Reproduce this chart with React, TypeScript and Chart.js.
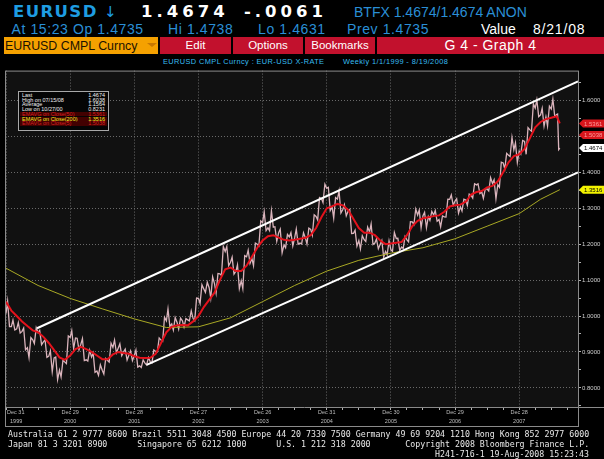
import React, { useEffect, useRef } from 'react';
import { Chart, registerables } from 'chart.js';

Chart.register(...registerables);
Chart.defaults.font.family = '"Liberation Sans", Arial, sans-serif';

// ---------------- data (monthly, Jan 2000 .. Aug 2008; x = months since Dec 31 1999) ----------------
const openingClose = 1.007;
const lastMonthEnd = 103.6; // Aug 19 2008

const priceHigh = [
  1.0414, 0.989, 0.9817, 0.9665, 0.94, 0.9672, 0.9596, 0.9339, 0.903, 0.8856, 0.8766, 0.9445,
  0.9594, 0.9382, 0.9371, 0.905, 0.897, 0.864, 0.882, 0.924, 0.933, 0.9227, 0.908, 0.903,
  0.905, 0.878, 0.8843, 0.9053, 0.939, 0.9965, 1.0195, 0.9955, 0.994, 0.993, 1.0145, 1.05,
  1.0872, 1.0939, 1.1088, 1.1185, 1.1933, 1.1933, 1.164, 1.1425, 1.1679, 1.1833, 1.203, 1.2647,
  1.2898, 1.2927, 1.2485, 1.2418, 1.2272, 1.232, 1.242, 1.2318, 1.2448, 1.2818, 1.33, 1.3667,
  1.3583, 1.3296, 1.348, 1.3097, 1.2966, 1.2387, 1.2235, 1.2477, 1.256, 1.214, 1.21, 1.2094,
  1.2323, 1.2163, 1.2215, 1.2625, 1.2978, 1.2947, 1.2885, 1.2912, 1.2935, 1.2785, 1.325, 1.3367,
  1.3265, 1.325, 1.3392, 1.3682, 1.3678, 1.353, 1.3852, 1.3792, 1.4282, 1.4527, 1.4967, 1.482,
  1.4888, 1.5242, 1.5903, 1.6019, 1.578, 1.5842, 1.6038, 1.562,
];
const priceLow = [
  0.9705, 0.9611, 0.9525, 0.9063, 0.8844, 0.9237, 0.9205, 0.8848, 0.845, 0.8231, 0.8305, 0.8675,
  0.9095, 0.906, 0.876, 0.8747, 0.8435, 0.8348, 0.8385, 0.872, 0.8975, 0.89, 0.8775, 0.876,
  0.8578, 0.8566, 0.864, 0.8695, 0.8998, 0.9295, 0.971, 0.961, 0.9636, 0.9697, 0.9862, 0.9871,
  1.035, 1.066, 1.05, 1.0641, 1.1127, 1.14, 1.1167, 1.0765, 1.076, 1.1462, 1.14, 1.195,
  1.2378, 1.2376, 1.2083, 1.176, 1.1902, 1.1952, 1.2, 1.2005, 1.2006, 1.225, 1.2675, 1.3157,
  1.2933, 1.2725, 1.2865, 1.279, 1.2297, 1.1946, 1.1868, 1.2075, 1.1988, 1.187, 1.1639, 1.1706,
  1.18, 1.1828, 1.188, 1.2064, 1.2545, 1.2455, 1.2457, 1.2664, 1.2637, 1.2483, 1.2755, 1.3085,
  1.2865, 1.2925, 1.308, 1.3283, 1.3409, 1.3275, 1.348, 1.326, 1.3584, 1.409, 1.4439, 1.4275,
  1.451, 1.45, 1.5145, 1.555, 1.5282, 1.5285, 1.555, 1.4631,
];
const priceClose = [
  0.9708, 0.9643, 0.9573, 0.9118, 0.934, 0.9535, 0.9283, 0.8884, 0.8832, 0.8495, 0.8717, 0.9406,
  0.939, 0.9216, 0.8782, 0.8858, 0.8469, 0.8491, 0.8764, 0.9125, 0.9107, 0.9003, 0.8915, 0.8897,
  0.8612, 0.869, 0.872, 0.9012, 0.933, 0.9865, 0.978, 0.9818, 0.9866, 0.9893, 0.993, 1.0492,
  1.0755, 1.0787, 1.0901, 1.1175, 1.1797, 1.1495, 1.1245, 1.0983, 1.1648, 1.16, 1.1995, 1.2597,
  1.2454, 1.2475, 1.2319, 1.1979, 1.2204, 1.2179, 1.2029, 1.2175, 1.2411, 1.2772, 1.3272, 1.3554,
  1.304, 1.3253, 1.2965, 1.2921, 1.23, 1.21, 1.2124, 1.2342, 1.203, 1.1995, 1.1795, 1.1842,
  1.2159, 1.1918, 1.2118, 1.2622, 1.2811, 1.279, 1.2767, 1.2812, 1.2685, 1.276, 1.3247, 1.3197,
  1.304, 1.3228, 1.3355, 1.365, 1.3452, 1.3535, 1.369, 1.3655, 1.426, 1.4474, 1.4626, 1.459,
  1.4861, 1.518, 1.5787, 1.5595, 1.5546, 1.576, 1.5605, 1.4674,
];

// red moving average (value at each month end)
const emaFastStart = 1.04;
const emaFast = [
  1.015, 1.0, 0.985, 0.972, 0.96, 0.955, 0.942, 0.925, 0.905, 0.885, 0.878, 0.89,
  0.908, 0.914, 0.908, 0.9, 0.89, 0.88, 0.88, 0.893, 0.9, 0.897, 0.895, 0.888,
  0.884, 0.883, 0.884, 0.895, 0.925, 0.955, 0.97, 0.974, 0.975, 0.974, 0.985, 1.0,
  1.025, 1.045, 1.065, 1.1, 1.13, 1.135, 1.125, 1.125, 1.14, 1.165, 1.19, 1.21,
  1.222, 1.225, 1.218, 1.212, 1.21, 1.212, 1.215, 1.218, 1.225, 1.245, 1.275, 1.3,
  1.305, 1.312, 1.308, 1.295, 1.27, 1.245, 1.232, 1.232, 1.225, 1.21, 1.2, 1.202,
  1.204, 1.206, 1.225, 1.25, 1.265, 1.272, 1.275, 1.278, 1.28, 1.29, 1.305, 1.308,
  1.31, 1.318, 1.338, 1.345, 1.348, 1.358, 1.362, 1.375, 1.4, 1.428, 1.445, 1.45,
  1.465, 1.495, 1.525, 1.54, 1.548, 1.552, 1.556, 1.536,
];

// yellow 200-period average
const emaSlowMonths = [0, 6, 12, 18, 24, 30, 36, 42, 48, 54, 60, 66, 72, 78, 84, 90, 96, 100, 103.6];
const emaSlowValues = [1.133, 1.085, 1.049, 1.02, 0.992, 0.968, 0.97, 0.995, 1.04, 1.085, 1.125, 1.155, 1.175, 1.19, 1.215, 1.25, 1.285, 1.325, 1.3516];

// white trend channel
const upperChannelMonths = [5.8, 107];
const upperChannelValues = [0.966, 1.653];
const lowerChannelMonths = [26.3, 107];
const lowerChannelValues = [0.864, 1.4];

const xTickDates = ['Dec 31', 'Dec 29', 'Dec 28', 'Dec 27', 'Dec 26', 'Dec 31', 'Dec 30', 'Dec 29', 'Dec 28'];
const xTickYears = ['1999', '2000', '2001', '2002', '2003', '2004', '2005', '2006', '2007'];
const yTickValues = [0.8, 0.9, 1.0, 1.1, 1.2, 1.3, 1.4, 1.5, 1.6];

const legendLabels = ['Last', 'High on 07/15/08', 'Average', 'Low on 10/27/00', 'EMAVG on Close(50)', 'EMAVG on Close(200)', 'EMAVG on Close(5)'];
const legendValues = ['1.4674', '1.6038', '1.1564', '0.8231', '1.5361', '1.3516', '1.5038'];
const sideTagValues = [1.5361, 1.5038, 1.4674, 1.3516];

const X_MIN = -0.19;
const X_MAX = 107.0;
const Y_MIN = 0.7468;
const Y_MAX = 1.683;

// ---------------- helpers ----------------
const SANS = '"Liberation Sans", Arial, sans-serif';
const DEJAVU = '"DejaVu Sans", sans-serif';
const MONO = '"DejaVu Sans Mono", monospace';

function T(props: any) {
  const { x, base, size, color, weight, family, ls, children } = props;
  return (
    <div
      style={{
        position: 'absolute',
        left: x,
        top: base - 0.846 * size,
        fontSize: size,
        lineHeight: `${size}px`,
        color,
        fontWeight: weight || 'normal',
        fontFamily: family || SANS,
        letterSpacing: ls || 0,
        whiteSpace: 'pre',
      }}
    >
      {children}
    </div>
  );
}

function buildPrice() {
  const pts: { x: number; y: number }[] = [{ x: 0, y: openingClose }];
  for (let i = 0; i < priceClose.length; i++) {
    const end = i === priceClose.length - 1 ? lastMonthEnd : i + 1;
    const span = end - i;
    const prev = i === 0 ? openingClose : priceClose[i - 1];
    const up = priceClose[i] >= prev;
    pts.push({ x: i + span * 0.3, y: up ? priceLow[i] : priceHigh[i] });
    pts.push({ x: i + span * 0.65, y: up ? priceHigh[i] : priceLow[i] });
    pts.push({ x: end, y: priceClose[i] });
  }
  return pts;
}

function buildFast() {
  const pts = [{ x: 0, y: emaFastStart }];
  emaFast.forEach((v, i) => pts.push({ x: i === emaFast.length - 1 ? lastMonthEnd : i + 1, y: v }));
  return pts;
}

const zip = (xs: number[], ys: number[]) => xs.map((x, i) => ({ x, y: ys[i] }));

const isMajorY = (v: number) => Math.abs(v * 10 - Math.round(v * 10)) < 1e-6;

const tagStyles = [
  { fill: '#d8161c', text: '#ff9c9c' },
  { fill: '#d8161c', text: '#ff9c9c' },
  { fill: '#ffffff', text: '#000000' },
  { fill: '#f2f200', text: '#000000' },
];

const framePlugin = {
  id: 'bbgFrame',
  beforeDraw(chart: any) {
    const { ctx, chartArea: a, width, height } = chart;
    ctx.save();
    ctx.fillStyle = '#000';
    ctx.fillRect(0, 0, width, height);
    ctx.fillStyle = '#111111';
    ctx.fillRect(a.left, a.top, a.right - a.left, a.bottom - a.top);
    ctx.restore();
  },
  afterDraw(chart: any) {
    const { ctx, chartArea: a, width } = chart;
    const xs = chart.scales.x;
    const ys = chart.scales.y;
    ctx.save();
    ctx.strokeStyle = '#8a8a8a';
    ctx.lineWidth = 1;
    ctx.strokeRect(a.left + 0.5, a.top + 0.5, a.right - a.left, a.bottom + 19 - a.top);
    ctx.beginPath();
    ctx.moveTo(a.left, a.bottom + 0.5);
    ctx.lineTo(width, a.bottom + 0.5);
    ctx.stroke();

    ctx.fillStyle = '#bdbdbd';
    ctx.font = `5.5px ${SANS}`;
    ctx.textBaseline = 'middle';
    xTickDates.forEach((d, k) => {
      const px = xs.getPixelForValue(k * 12);
      ctx.textAlign = k === 0 ? 'left' : 'center';
      const tx = k === 0 ? px + 1 : px;
      ctx.fillText(d, tx, a.bottom + 5);
      ctx.fillText(xTickYears[k], k === 0 ? tx + 3 : tx, a.bottom + 14);
    });

    sideTagValues.forEach((v, i) => {
      const y = ys.getPixelForValue(v);
      const st = tagStyles[i];
      ctx.fillStyle = st.fill;
      ctx.beginPath();
      ctx.moveTo(a.right + 1, y);
      ctx.lineTo(a.right + 5, y - 4);
      ctx.lineTo(width, y - 4);
      ctx.lineTo(width, y + 4);
      ctx.lineTo(a.right + 5, y + 4);
      ctx.closePath();
      ctx.fill();
      ctx.fillStyle = st.text;
      ctx.font = `6px ${SANS}`;
      ctx.textAlign = 'left';
      ctx.textBaseline = 'middle';
      ctx.fillText(v.toFixed(4), a.right + 6, y + 0.5);
    });
    ctx.restore();
  },
};

export default function App() {
  const ref = useRef<HTMLCanvasElement>(null);

  useEffect(() => {
    const canvas = ref.current;
    if (!canvas) return;
    const xTicks: number[] = [];
    for (let m = 0; m <= X_MAX; m += 3) xTicks.push(m);
    const yTicks: number[] = [];
    yTickValues.forEach((v) => {
      yTicks.push(+(v - 0.05).toFixed(2), v);
    });
    yTicks.push(+(yTickValues[yTickValues.length - 1] + 0.05).toFixed(2));

    const chart = new Chart(canvas, {
      type: 'line',
      data: {
        datasets: [
          { data: zip(upperChannelMonths, upperChannelValues), borderColor: '#ffffff', borderWidth: 2, order: 0 },
          { data: zip(lowerChannelMonths, lowerChannelValues), borderColor: '#ffffff', borderWidth: 2, order: 0 },
          { data: buildFast(), borderColor: '#e3121c', borderWidth: 2, order: 1 },
          { data: zip(emaSlowMonths, emaSlowValues), borderColor: '#a8a824', borderWidth: 1, order: 2 },
          { data: buildPrice(), borderColor: '#dab4bc', borderWidth: 1.3, order: 3 },
        ] as any,
      },
      options: {
        animation: false,
        responsive: false,
        maintainAspectRatio: false,
        events: [],
        layout: { padding: { left: 5, top: 3, right: 0, bottom: 0 } },
        elements: { point: { radius: 0 }, line: { tension: 0 } },
        plugins: { legend: { display: false }, tooltip: { enabled: false } },
        scales: {
          x: {
            type: 'linear',
            min: X_MIN,
            max: X_MAX,
            afterBuildTicks: (s: any) => {
              s.ticks = xTicks.map((v) => ({ value: v }));
            },
            afterFit: (s: any) => {
              s.height = 23;
            },
            grid: {
              color: (c: any) => (c.tick && c.tick.value % 12 === 0 ? '#6a6a6a' : 'rgba(0,0,0,0)'),
              tickColor: '#b0b0b0',
              tickLength: 3,
              lineWidth: 1,
            },
            border: { display: false, dash: [1, 2] },
            ticks: { display: false },
          },
          y: {
            type: 'linear',
            position: 'right',
            min: Y_MIN,
            max: Y_MAX,
            afterBuildTicks: (s: any) => {
              s.ticks = yTicks.map((v) => ({ value: v }));
            },
            afterFit: (s: any) => {
              s.width = 26;
            },
            grid: {
              color: (c: any) => (c.tick && isMajorY(c.tick.value) ? '#6a6a6a' : 'rgba(0,0,0,0)'),
              tickColor: '#b0b0b0',
              tickLength: 3,
              lineWidth: 1,
            },
            border: { display: false, dash: [1, 2] },
            ticks: {
              autoSkip: false,
              padding: 1,
              color: '#d0d0d0',
              font: { size: 6 },
              callback: (v: any) => (isMajorY(Number(v)) ? Number(v).toFixed(4) : ''),
            },
          },
        },
      } as any,
      plugins: [framePlugin],
    });
    return () => chart.destroy();
  }, []);

  const blue = '#2a8fd6';
  const buttons = [
    { l: 160, w: 71, t: 'Edit' },
    { l: 233, w: 70, t: 'Options' },
    { l: 305, w: 70, t: 'Bookmarks' },
  ];

  return (
    <div style={{ position: 'absolute', left: 0, top: 0, width: 604, height: 459, background: '#000', overflow: 'hidden' }}>
      {/* header line 1 */}
      <T x={13} base={17.5} size={16.5} weight="bold" family={DEJAVU} color="#1e9de2" ls={1.4}>EURUSD</T>
      <T x={104} base={17.5} size={15} family={DEJAVU} color="#1e9de2">↓</T>
      <T x={141} base={17.5} size={16.5} weight="bold" family={DEJAVU} color="#ffffff" ls={4}>1.4674</T>
      <T x={244} base={17.5} size={16.5} weight="bold" family={DEJAVU} color="#ffffff" ls={4}>-.0061</T>
      <T x={354} base={17} size={14} color={blue}>BTFX 1.4674/1.4674 ANON</T>
      {/* header line 2 */}
      <T x={11.5} base={33.5} size={14} color={blue} ls={0.6}>At 15:23 Op 1.4735</T>
      <T x={168} base={33.5} size={14} color={blue} ls={0.6}>Hi 1.4738</T>
      <T x={258} base={33.5} size={14} color={blue} ls={0.6}>Lo 1.4631</T>
      <T x={347} base={33.5} size={14} color={blue} ls={0.6}>Prev 1.4735</T>
      <T x={481} base={33.5} size={14} color="#ffffff">Value</T>
      <T x={533} base={33.5} size={14} color="#ffffff" ls={0.8}>8/21/08</T>

      {/* toolbar */}
      <div style={{ position: 'absolute', left: 4, top: 37, width: 154, height: 17, background: '#f5a100' }} />
      <T x={5} base={50.7} size={12.4} color="#1b1200">EURUSD CMPL Curncy</T>
      <div
        style={{
          position: 'absolute',
          left: 147,
          top: 42.5,
          width: 0,
          height: 0,
          borderLeft: '5px solid transparent',
          borderRight: '5px solid transparent',
          borderTop: '4px solid #c87800',
        }}
      />
      {buttons.map((b) => (
        <div
          key={b.t}
          style={{
            position: 'absolute',
            left: b.l,
            top: 37,
            width: b.w,
            height: 17,
            background: '#c2112d',
            color: '#fff',
            fontFamily: SANS,
            fontSize: 11.5,
            lineHeight: '16px',
            textAlign: 'center',
          }}
        >
          {b.t}
        </div>
      ))}
      <div
        style={{
          position: 'absolute',
          left: 377,
          top: 37,
          width: 227,
          height: 17,
          background: '#c2112d',
          color: '#fff',
          fontFamily: SANS,
          fontSize: 14,
          lineHeight: '17px',
          textAlign: 'center',
          letterSpacing: 0.5,
        }}
      >
        G 4 - Graph 4
      </div>

      {/* subtitle */}
      <T x={163} base={64.7} size={7.4} color="#37bdf0" ls={0.4}>EURUSD CMPL Curncy : EUR-USD X-RATE</T>
      <T x={343} base={64.7} size={7.4} color="#37bdf0" ls={0.4}>Weekly 1/1/1999 - 8/19/2008</T>

      {/* chart */}
      <canvas ref={ref} width={604} height={364} style={{ position: 'absolute', left: 0, top: 66, width: 604, height: 364 }} />

      {/* legend box */}
      <div
        style={{
          position: 'absolute',
          left: 18,
          top: 91,
          width: 89,
          height: 38,
          border: '1px solid #a8a8a8',
          background: '#050505',
          fontFamily: SANS,
          fontSize: 5.5,
        }}
      >
        {legendLabels.map((lab, k) => {
          const color = k === 4 || k === 6 ? '#d42020' : k === 5 ? '#f0f020' : '#f0f0f0';
          return (
            <div
              key={lab}
              style={{
                position: 'absolute',
                left: 1,
                right: 1,
                top: 1 + k * 4.7,
                height: 4.7,
                lineHeight: '4.7px',
                color,
                background: k >= 4 ? 'rgba(100,0,0,0.65)' : 'transparent',
                whiteSpace: 'pre',
              }}
            >
              <span style={{ position: 'absolute', left: 2 }}>{lab}</span>
              <span style={{ position: 'absolute', right: 2 }}>{legendValues[k]}</span>
            </div>
          );
        })}
      </div>

      {/* footer */}
      <T x={8} base={436.5} size={8.26} family={MONO} color="#e8e8e8">
        Australia 61 2 9777 8600 Brazil 5511 3048 4500 Europe 44 20 7330 7500 Germany 49 69 9204 1210 Hong Kong 852 2977 6000
      </T>
      <T x={8} base={447} size={8.26} family={MONO} color="#e8e8e8">
        {'Japan 81 3 3201 8900      Singapore 65 6212 1000      U.S. 1 212 318 2000       Copyright 2008 Bloomberg Finance L.P.'}
      </T>
      <T x={435} base={457} size={8.26} family={MONO} color="#e8e8e8">
        H241-716-1 19-Aug-2008 15:23:43
      </T>
    </div>
  );
}
